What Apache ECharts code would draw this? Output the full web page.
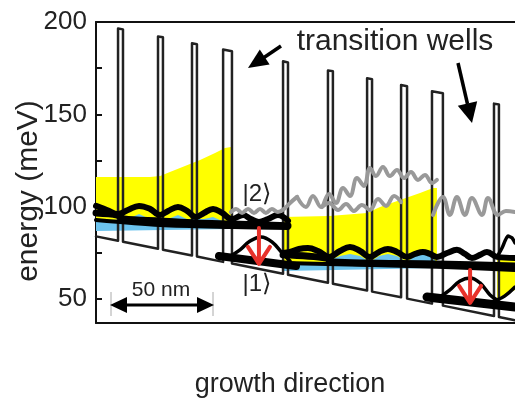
<!DOCTYPE html>
<html><head><meta charset="utf-8">
<script src="https://cdn.jsdelivr.net/npm/echarts@6/dist/echarts.min.js"></script>
<style>html,body{margin:0;padding:0;background:#fff}#c{width:515px;height:405px}</style>
</head><body><div id="c"></div>
<script>
// axis ticks (meV)
const yTickLabels = [50, 100, 150, 200];
const yTickMarks = [50, 75, 100, 125, 150, 175, 200];

// conduction band edge [position nm, energy meV]
const bandEdge = [[0,83.9],[10.7,81.5],[10.7,196.5],[13.1,196.0],[13.1,81.0],
  [30.1,77.2],[30.1,192.2],[32.5,191.7],[32.5,76.7],
  [46.6,73.5],[46.6,188.5],[49.0,188.0],[49.0,73.0],
  [61.7,70.1],[61.7,185.1],[66.0,184.2],[66.0,69.2],
  [90.8,63.7],[90.8,178.7],[93.2,178.1],[93.2,63.1],
  [112.6,58.8],[112.6,173.8],[115.0,173.3],[115.0,58.3],
  [131.6,54.6],[131.6,169.6],[134.0,169.0],[134.0,54.0],
  [148.1,50.9],[148.1,165.9],[151.0,165.2],[151.0,50.2],
  [163.1,47.5],[163.1,162.5],[168.4,161.4],[168.4,46.4],
  [193.2,40.8],[193.2,155.8],[195.6,155.3],[195.6,40.3],
  [203.4,38.5]];

// yellow (filled states) regions
const yellowLeft = [[0,116.1],[26.2,116.1],[31.1,116.6],[35.9,118.8],[43.2,122.0],[50.5,125.3],[57.8,129.1],[62.6,131.8],[65.5,132.3],[65.5,89.6],[0,91.7]];
const yellowRight = [[90.8,94.4],[113.2,95.0],[131.6,96.6],[137.9,99.8],[147.6,103.6],[157.3,107.4],[163.6,110.1],[165.5,110.1],[165.5,70.1],[90.8,70.1]];
const yellowEdge = [[194.7,72.2],[203.4,72.2],[203.4,54.9],[198.5,52.2],[194.7,50.6]];

// blue regions
const blueLeft = [[0,92.3],[15.5,93.3],[20.9,96.0],[26.2,93.3],[35.0,93.3],[39.8,95.5],[44.2,93.3],[52.4,93.3],[56.8,94.4],[61.2,92.3],[65.5,91.2],[65.5,87.9],[0,86.8]];
const blueRight = [[90.8,70.1],[111.6,70.1],[118.4,73.3],[123.3,74.4],[128.2,73.3],[133.0,70.1],[137.4,73.3],[141.7,74.4],[146.1,73.3],[151.0,70.1],[154.9,73.3],[158.7,74.4],[162.1,73.3],[165.5,70.1],[165.5,66.8],[90.8,65.2]];

// black wavefunctions
const wfTopLeft = [[0,100.4],[5.3,98.2],[10.7,96.0],[15.5,98.2],[20.9,100.4],[26.2,98.8],[31.1,95.5],[35.0,97.7],[39.8,99.8],[44.2,97.7],[48.5,94.4],[52.4,96.6],[56.8,98.8],[61.2,96.6],[66.0,93.3],[71.4,95.5],[75.2,93.3],[79.1,91.7],[83.5,93.3],[88.3,95.5],[93.2,92.3]];
const wfFlatLeft1 = [[0,96.6],[10.2,95.5],[13.6,93.3],[31.1,92.3],[48.5,91.2],[66.0,90.6],[93.2,89.6]];
const wfFlatLeft2 = [[0,92.8],[31.1,90.1],[66.0,89.0],[93.2,88.5]];
const lowerLeftBase = [[59.7,73.3],[97.1,67.9]];
const lowerLeftBump = [[64.6,72.8],[69.9,76.6],[74.8,81.4],[80.1,83.6],[85.4,80.9],[90.8,74.4],[94.2,70.6]];
const wfTopRight = [[90.8,74.9],[94.2,75.5],[98.5,77.1],[102.9,77.6],[107.8,76.0],[113.2,72.8],[118.4,76.0],[123.3,78.2],[128.2,76.0],[133.0,72.8],[137.4,75.5],[141.7,77.1],[146.1,75.5],[151.0,72.8],[154.9,74.4],[158.7,75.5],[162.1,74.4],[165.5,72.8],[170.4,74.9],[175.2,76.6],[179.1,74.4],[182.5,72.2],[186.4,73.9],[189.8,75.5],[194.7,72.8],[203.4,72.2]];
const wfFlatRight1 = [[90.8,73.9],[111.6,72.2],[115.0,70.1],[165.5,69.0],[203.4,67.9]];
const wfFlatRight2 = [[90.8,69.5],[165.5,67.4],[203.4,65.7]];
const edgePeak = [[194.7,72.8],[197.1,77.6],[200.0,84.1],[201.9,83.1],[203.4,80.4]];
const lowerRightBase = [[160.7,51.1],[203.4,45.7]];
const lowerRightBump = [[167.0,51.1],[171.8,54.9],[176.7,59.8],[181.6,61.4],[186.4,58.7],[191.3,52.2],[194.7,49.5]];
const edgeBump = [[194.7,49.5],[198.5,51.7],[203.4,56.5]];

// grey upper-state wavefunctions
const greyLeft = [[65.5,97.1],[68.0,98.8],[70.9,96.6],[73.8,98.8],[76.7,96.6],[79.6,98.8],[82.5,96.6],[85.4,98.8],[88.3,97.1],[91.3,98.8],[94.2,102.0],[97.6,105.3]];
const greyRight1 = [[97.6,105.3],[101.9,99.8],[105.3,105.8],[109.2,99.8],[113.1,106.9],[116.5,102.0],[119.9,110.1],[123.3,105.8],[126.7,115.5],[130.1,111.2],[133.0,121.0],[135.9,116.6],[139.3,121.5],[142.7,116.6],[146.1,119.9],[149.5,115.5],[152.9,118.8],[156.3,114.5],[159.7,117.2],[163.1,112.8],[165.5,114.5]];
const greyRight2 = [[109.7,99.8],[113.2,102.0],[117.5,98.2],[121.4,101.5],[125.2,97.7],[129.1,100.9],[133.0,98.2],[136.9,104.2],[140.8,100.4],[144.7,105.8],[148.1,102.5]];
const greyRight3 = [[163.6,95.5],[168.4,105.3],[171.8,95.5],[175.2,105.3],[179.1,95.5],[182.5,104.7],[187.4,95.5],[190.3,104.7],[195.1,95.5],[199.0,97.7],[203.4,97.1]];

// red transitions [position nm, upper meV, lower meV]
const transitions = [[79.1,88.5,69.0],[181.6,65.7,47.9]];

const FONT = '"Liberation Sans", Arial, sans-serif';

function polySeries(pts, color, z) {
  return { type: 'custom', coordinateSystem: 'cartesian2d', silent: true, z: z, clip: true,
    data: pts,
    renderItem: function (params, api) {
      if (params.dataIndex !== 0) return null;
      return { type: 'polygon', shape: { points: pts.map(p => api.coord(p)) }, style: { fill: color } };
    } };
}
function lineSeries(pts, color, width, smooth, z) {
  return { type: 'line', data: pts, showSymbol: false, symbol: 'none', smooth: smooth, silent: true, z: z,
    lineStyle: { color: color, width: width, cap: 'round', join: 'round' } };
}

const series = [
  polySeries(yellowLeft, '#ffff00', 1),
  polySeries(yellowRight, '#ffff00', 1),
  polySeries(yellowEdge, '#ffff00', 1),
  polySeries(blueLeft, '#6cc3ee', 2),
  polySeries(blueRight, '#6cc3ee', 2),
  lineSeries(bandEdge, '#222', 2.5, false, 3),
  lineSeries(wfFlatLeft1, '#000', 7, 0.3, 4),
  lineSeries(wfFlatLeft2, '#000', 4, 0.3, 4),
  lineSeries(wfTopLeft, '#000', 6, 0.4, 4),
  lineSeries(lowerLeftBase, '#000', 8, false, 4),
  lineSeries(lowerLeftBump, '#000', 3.5, 0.4, 4),
  lineSeries(wfFlatRight1, '#000', 7, 0.3, 4),
  lineSeries(wfFlatRight2, '#000', 4, 0.3, 4),
  lineSeries(wfTopRight, '#000', 6, 0.4, 4),
  lineSeries(edgePeak, '#000', 3.5, 0.2, 4),
  lineSeries(lowerRightBase, '#000', 9, false, 4),
  lineSeries(lowerRightBump, '#000', 3.5, 0.4, 4),
  lineSeries(edgeBump, '#000', 3.5, 0.4, 4),
  lineSeries(greyLeft, '#999', 4, 0.4, 5),
  lineSeries(greyRight1, '#999', 4, 0.4, 5),
  lineSeries(greyRight2, '#999', 4, 0.4, 5),
  lineSeries(greyRight3, '#999', 4, 0.4, 5),
  { type: 'custom', coordinateSystem: 'cartesian2d', silent: true, z: 6, data: transitions,
    renderItem: function (params, api) {
      const top = api.coord([api.value(0), api.value(1)]);
      const tip = api.coord([api.value(0), api.value(2)]);
      const st = { stroke: '#e8322b', lineWidth: 4, fill: null, lineCap: 'round', lineJoin: 'round' };
      return { type: 'group', children: [
        { type: 'line', shape: { x1: top[0], y1: top[1], x2: tip[0], y2: tip[1] - 2 }, style: st },
        { type: 'polyline', shape: { points: [[tip[0] - 11, tip[1] - 17], [tip[0], tip[1]], [tip[0] + 11, tip[1] - 17]] }, style: st }
      ] };
    } }
];

const chart = echarts.init(document.getElementById('c'), null, { renderer: 'canvas' });
chart.setOption({
  animation: false,
  backgroundColor: '#fff',
  grid: { left: 96, right: 0, top: 22, bottom: 82, containLabel: false },
  xAxis: [
    { type: 'value', min: 0, max: 203.4, position: 'bottom',
      axisLine: { show: true, onZero: false, lineStyle: { color: '#111', width: 2 } },
      axisTick: { show: false }, axisLabel: { show: false }, splitLine: { show: false } },
    { type: 'value', min: 0, max: 203.4, position: 'top',
      axisLine: { show: true, onZero: false, lineStyle: { color: '#111', width: 2 } },
      axisTick: { show: false }, axisLabel: { show: false }, splitLine: { show: false } }
  ],
  yAxis: { type: 'value', min: 37, max: 200,
    axisLine: { show: true, lineStyle: { color: '#111', width: 2 } },
    axisTick: { show: true, inside: true, length: 6, customValues: yTickMarks, lineStyle: { color: '#111', width: 2 } },
    axisLabel: { show: true, customValues: yTickLabels, fontSize: 26, fontFamily: FONT, color: '#222', margin: 9 },
    splitLine: { show: false } },
  series: series,
  graphic: [
    { type: 'text', x: 29, y: 191, rotation: Math.PI / 2,
      style: { text: 'energy (meV)', fontSize: 30, fontFamily: FONT, fill: '#222', textAlign: 'center', textVerticalAlign: 'middle', align: 'center', verticalAlign: 'middle' } },
    { type: 'text', x: 290, y: 385,
      style: { text: 'growth direction', fontSize: 27, fontFamily: FONT, fill: '#222', textAlign: 'center', textVerticalAlign: 'middle', align: 'center', verticalAlign: 'middle' } },
    { type: 'text', x: 395, y: 42, z: 100,
      style: { text: 'transition wells', fontSize: 30, fontFamily: FONT, fill: '#222', textAlign: 'center', textVerticalAlign: 'middle', align: 'center', verticalAlign: 'middle' } },
    { type: 'text', x: 257, y: 194, z: 100,
      style: { text: '|2⟩', fontSize: 24, fontFamily: FONT + ', "DejaVu Sans"', fill: '#222', textAlign: 'center', textVerticalAlign: 'middle', align: 'center', verticalAlign: 'middle' } },
    { type: 'text', x: 257, y: 284, z: 100,
      style: { text: '|1⟩', fontSize: 24, fontFamily: FONT + ', "DejaVu Sans"', fill: '#222', textAlign: 'center', textVerticalAlign: 'middle', align: 'center', verticalAlign: 'middle' } },
    { type: 'text', x: 161, y: 290, z: 100,
      style: { text: '50 nm', fontSize: 21, fontFamily: FONT, fill: '#222', textAlign: 'center', textVerticalAlign: 'middle', align: 'center', verticalAlign: 'middle' } },
    // 50 nm scale arrow
    { type: 'line', z: 100, shape: { x1: 111, y1: 292, x2: 111, y2: 316 }, style: { stroke: '#aaa', lineWidth: 1 } },
    { type: 'line', z: 100, shape: { x1: 213, y1: 292, x2: 213, y2: 316 }, style: { stroke: '#aaa', lineWidth: 1 } },
    { type: 'line', z: 100, shape: { x1: 122, y1: 305, x2: 201, y2: 305 }, style: { stroke: '#000', lineWidth: 3 } },
    { type: 'polygon', z: 100, shape: { points: [[110, 305], [127, 297], [127, 313]] }, style: { fill: '#000' } },
    { type: 'polygon', z: 100, shape: { points: [[214, 305], [197, 297], [197, 313]] }, style: { fill: '#000' } },
    // transition-well pointers
    { type: 'line', z: 100, shape: { x1: 281, y1: 46, x2: 264, y2: 57.5 }, style: { stroke: '#000', lineWidth: 3.5 } },
    { type: 'polygon', z: 100, shape: { points: [[248, 68], [259.8, 49.5], [269.6, 64.5]] }, style: { fill: '#000' } },
    { type: 'line', z: 100, shape: { x1: 458, y1: 63, x2: 467.5, y2: 104 }, style: { stroke: '#000', lineWidth: 3.5 } },
    { type: 'polygon', z: 100, shape: { points: [[472, 123], [457.8, 105.8], [477.2, 101.2]] }, style: { fill: '#000' } }
  ]
});
</script>
</body></html>
